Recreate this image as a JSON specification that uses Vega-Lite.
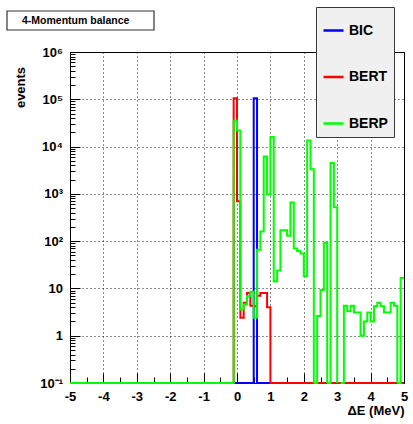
{
  "$schema": "https://vega.github.io/schema/vega-lite/v6.json",
  "width": 334,
  "height": 331,
  "autosize": "none",
  "padding": {"left": 70, "top": 52, "right": 9, "bottom": 41},
  "background": "white",
  "config": {
    "view": {"stroke": "black", "strokeWidth": 1},
    "axis": {
      "labelFont": "Liberation Sans", "labelFontWeight": "bold", "labelFontSize": 13, "labelColor": "black",
      "titleFont": "Liberation Sans", "titleFontWeight": "bold", "titleFontSize": 13, "titleColor": "black",
      "tickColor": "black", "domainColor": "black", "labelOverlap": false, "labelFlush": false
    },
    "legend": {
      "orient": "none", "legendX": 246, "legendY": -45,
      "fillColor": "#f0f0f0", "strokeColor": "#3a3a3a", "padding": 6,
      "symbolType": "stroke", "symbolSize": 400, "symbolStrokeWidth": 2.5,
      "labelFont": "Liberation Sans", "labelFontWeight": "bold", "labelFontSize": 14, "labelColor": "black",
      "labelOffset": 4, "rowPadding": 27.5,
      "titleFontSize": 1, "titlePadding": 5
    }
  },
  "datasets": {
    "bic": [
      {"s":"BIC","x":-5,"n":0},{"s":"BIC","x":-4.9,"n":0},{"s":"BIC","x":-4.8,"n":0},{"s":"BIC","x":-4.7,"n":0},{"s":"BIC","x":-4.6,"n":0},
      {"s":"BIC","x":-4.5,"n":0},{"s":"BIC","x":-4.4,"n":0},{"s":"BIC","x":-4.3,"n":0},{"s":"BIC","x":-4.2,"n":0},{"s":"BIC","x":-4.1,"n":0},
      {"s":"BIC","x":-4,"n":0},{"s":"BIC","x":-3.9,"n":0},{"s":"BIC","x":-3.8,"n":0},{"s":"BIC","x":-3.7,"n":0},{"s":"BIC","x":-3.6,"n":0},
      {"s":"BIC","x":-3.5,"n":0},{"s":"BIC","x":-3.4,"n":0},{"s":"BIC","x":-3.3,"n":0},{"s":"BIC","x":-3.2,"n":0},{"s":"BIC","x":-3.1,"n":0},
      {"s":"BIC","x":-3,"n":0},{"s":"BIC","x":-2.9,"n":0},{"s":"BIC","x":-2.8,"n":0},{"s":"BIC","x":-2.7,"n":0},{"s":"BIC","x":-2.6,"n":0},
      {"s":"BIC","x":-2.5,"n":0},{"s":"BIC","x":-2.4,"n":0},{"s":"BIC","x":-2.3,"n":0},{"s":"BIC","x":-2.2,"n":0},{"s":"BIC","x":-2.1,"n":0},
      {"s":"BIC","x":-2,"n":0},{"s":"BIC","x":-1.9,"n":0},{"s":"BIC","x":-1.8,"n":0},{"s":"BIC","x":-1.7,"n":0},{"s":"BIC","x":-1.6,"n":0},
      {"s":"BIC","x":-1.5,"n":0},{"s":"BIC","x":-1.4,"n":0},{"s":"BIC","x":-1.3,"n":0},{"s":"BIC","x":-1.2,"n":0},{"s":"BIC","x":-1.1,"n":0},
      {"s":"BIC","x":-1,"n":0},{"s":"BIC","x":-0.9,"n":0},{"s":"BIC","x":-0.8,"n":0},{"s":"BIC","x":-0.7,"n":0},{"s":"BIC","x":-0.6,"n":0},
      {"s":"BIC","x":-0.5,"n":0},{"s":"BIC","x":-0.4,"n":0},{"s":"BIC","x":-0.3,"n":0},{"s":"BIC","x":-0.2,"n":0},{"s":"BIC","x":-0.1,"n":0},
      {"s":"BIC","x":0,"n":0},{"s":"BIC","x":0.1,"n":0},{"s":"BIC","x":0.2,"n":0},{"s":"BIC","x":0.3,"n":0},{"s":"BIC","x":0.4,"n":0},
      {"s":"BIC","x":0.5,"n":105000},{"s":"BIC","x":0.6,"n":0},{"s":"BIC","x":0.7,"n":0},{"s":"BIC","x":0.8,"n":0},{"s":"BIC","x":0.9,"n":0},
      {"s":"BIC","x":1,"n":0},{"s":"BIC","x":1.1,"n":0},{"s":"BIC","x":1.2,"n":0},{"s":"BIC","x":1.3,"n":0},{"s":"BIC","x":1.4,"n":0},
      {"s":"BIC","x":1.5,"n":0},{"s":"BIC","x":1.6,"n":0},{"s":"BIC","x":1.7,"n":0},{"s":"BIC","x":1.8,"n":0},{"s":"BIC","x":1.9,"n":0},
      {"s":"BIC","x":2,"n":0},{"s":"BIC","x":2.1,"n":0},{"s":"BIC","x":2.2,"n":0},{"s":"BIC","x":2.3,"n":0},{"s":"BIC","x":2.4,"n":0},
      {"s":"BIC","x":2.5,"n":0},{"s":"BIC","x":2.6,"n":0},{"s":"BIC","x":2.7,"n":0},{"s":"BIC","x":2.8,"n":0},{"s":"BIC","x":2.9,"n":0},
      {"s":"BIC","x":3,"n":0},{"s":"BIC","x":3.1,"n":0},{"s":"BIC","x":3.2,"n":0},{"s":"BIC","x":3.3,"n":0},{"s":"BIC","x":3.4,"n":0},
      {"s":"BIC","x":3.5,"n":0},{"s":"BIC","x":3.6,"n":0},{"s":"BIC","x":3.7,"n":0},{"s":"BIC","x":3.8,"n":0},{"s":"BIC","x":3.9,"n":0},
      {"s":"BIC","x":4,"n":0},{"s":"BIC","x":4.1,"n":0},{"s":"BIC","x":4.2,"n":0},{"s":"BIC","x":4.3,"n":0},{"s":"BIC","x":4.4,"n":0},
      {"s":"BIC","x":4.5,"n":0},{"s":"BIC","x":4.6,"n":0},{"s":"BIC","x":4.7,"n":0},{"s":"BIC","x":4.8,"n":0},{"s":"BIC","x":4.9,"n":0},
      {"s":"BIC","x":5,"n":0}
    ],
    "bert": [
      {"s":"BERT","x":-5,"n":0},{"s":"BERT","x":-4.9,"n":0},{"s":"BERT","x":-4.8,"n":0},{"s":"BERT","x":-4.7,"n":0},{"s":"BERT","x":-4.6,"n":0},
      {"s":"BERT","x":-4.5,"n":0},{"s":"BERT","x":-4.4,"n":0},{"s":"BERT","x":-4.3,"n":0},{"s":"BERT","x":-4.2,"n":0},{"s":"BERT","x":-4.1,"n":0},
      {"s":"BERT","x":-4,"n":0},{"s":"BERT","x":-3.9,"n":0},{"s":"BERT","x":-3.8,"n":0},{"s":"BERT","x":-3.7,"n":0},{"s":"BERT","x":-3.6,"n":0},
      {"s":"BERT","x":-3.5,"n":0},{"s":"BERT","x":-3.4,"n":0},{"s":"BERT","x":-3.3,"n":0},{"s":"BERT","x":-3.2,"n":0},{"s":"BERT","x":-3.1,"n":0},
      {"s":"BERT","x":-3,"n":0},{"s":"BERT","x":-2.9,"n":0},{"s":"BERT","x":-2.8,"n":0},{"s":"BERT","x":-2.7,"n":0},{"s":"BERT","x":-2.6,"n":0},
      {"s":"BERT","x":-2.5,"n":0},{"s":"BERT","x":-2.4,"n":0},{"s":"BERT","x":-2.3,"n":0},{"s":"BERT","x":-2.2,"n":0},{"s":"BERT","x":-2.1,"n":0},
      {"s":"BERT","x":-2,"n":0},{"s":"BERT","x":-1.9,"n":0},{"s":"BERT","x":-1.8,"n":0},{"s":"BERT","x":-1.7,"n":0},{"s":"BERT","x":-1.6,"n":0},
      {"s":"BERT","x":-1.5,"n":0},{"s":"BERT","x":-1.4,"n":0},{"s":"BERT","x":-1.3,"n":0},{"s":"BERT","x":-1.2,"n":0},{"s":"BERT","x":-1.1,"n":0},
      {"s":"BERT","x":-1,"n":0},{"s":"BERT","x":-0.9,"n":0},{"s":"BERT","x":-0.8,"n":0},{"s":"BERT","x":-0.7,"n":0},{"s":"BERT","x":-0.6,"n":0},
      {"s":"BERT","x":-0.5,"n":0},{"s":"BERT","x":-0.4,"n":0},{"s":"BERT","x":-0.3,"n":0},{"s":"BERT","x":-0.2,"n":0},{"s":"BERT","x":-0.1,"n":105000},
      {"s":"BERT","x":0,"n":700},{"s":"BERT","x":0.1,"n":2.4},{"s":"BERT","x":0.2,"n":5},{"s":"BERT","x":0.3,"n":8},{"s":"BERT","x":0.4,"n":4.3},
      {"s":"BERT","x":0.5,"n":4.2},{"s":"BERT","x":0.6,"n":7},{"s":"BERT","x":0.7,"n":8},{"s":"BERT","x":0.8,"n":8},{"s":"BERT","x":0.9,"n":4},
      {"s":"BERT","x":1,"n":0},{"s":"BERT","x":1.1,"n":0},{"s":"BERT","x":1.2,"n":0},{"s":"BERT","x":1.3,"n":0},{"s":"BERT","x":1.4,"n":0},
      {"s":"BERT","x":1.5,"n":0},{"s":"BERT","x":1.6,"n":0},{"s":"BERT","x":1.7,"n":0},{"s":"BERT","x":1.8,"n":0},{"s":"BERT","x":1.9,"n":0},
      {"s":"BERT","x":2,"n":0},{"s":"BERT","x":2.1,"n":0},{"s":"BERT","x":2.2,"n":0},{"s":"BERT","x":2.3,"n":0},{"s":"BERT","x":2.4,"n":0},
      {"s":"BERT","x":2.5,"n":0},{"s":"BERT","x":2.6,"n":0},{"s":"BERT","x":2.7,"n":0},{"s":"BERT","x":2.8,"n":0},{"s":"BERT","x":2.9,"n":0},
      {"s":"BERT","x":3,"n":0},{"s":"BERT","x":3.1,"n":0},{"s":"BERT","x":3.2,"n":0},{"s":"BERT","x":3.3,"n":0},{"s":"BERT","x":3.4,"n":0},
      {"s":"BERT","x":3.5,"n":0},{"s":"BERT","x":3.6,"n":0},{"s":"BERT","x":3.7,"n":0},{"s":"BERT","x":3.8,"n":0},{"s":"BERT","x":3.9,"n":0},
      {"s":"BERT","x":4,"n":0},{"s":"BERT","x":4.1,"n":0},{"s":"BERT","x":4.2,"n":0},{"s":"BERT","x":4.3,"n":0},{"s":"BERT","x":4.4,"n":0},
      {"s":"BERT","x":4.5,"n":0},{"s":"BERT","x":4.6,"n":0},{"s":"BERT","x":4.7,"n":0},{"s":"BERT","x":4.8,"n":0},{"s":"BERT","x":4.9,"n":0},
      {"s":"BERT","x":5,"n":0}
    ],
    "berp": [
      {"s":"BERP","r":1,"x":-5,"n":0},{"s":"BERP","r":1,"x":-4.9,"n":0},{"s":"BERP","r":1,"x":-4.8,"n":0},{"s":"BERP","r":1,"x":-4.7,"n":0},{"s":"BERP","r":1,"x":-4.6,"n":0},
      {"s":"BERP","r":1,"x":-4.5,"n":0},{"s":"BERP","r":1,"x":-4.4,"n":0},{"s":"BERP","r":1,"x":-4.3,"n":0},{"s":"BERP","r":1,"x":-4.2,"n":0},{"s":"BERP","r":1,"x":-4.1,"n":0},
      {"s":"BERP","r":1,"x":-4,"n":0},{"s":"BERP","r":1,"x":-3.9,"n":0},{"s":"BERP","r":1,"x":-3.8,"n":0},{"s":"BERP","r":1,"x":-3.7,"n":0},{"s":"BERP","r":1,"x":-3.6,"n":0},
      {"s":"BERP","r":1,"x":-3.5,"n":0},{"s":"BERP","r":1,"x":-3.4,"n":0},{"s":"BERP","r":1,"x":-3.3,"n":0},{"s":"BERP","r":1,"x":-3.2,"n":0},{"s":"BERP","r":1,"x":-3.1,"n":0},
      {"s":"BERP","r":1,"x":-3,"n":0},{"s":"BERP","r":1,"x":-2.9,"n":0},{"s":"BERP","r":1,"x":-2.8,"n":0},{"s":"BERP","r":1,"x":-2.7,"n":0},{"s":"BERP","r":1,"x":-2.6,"n":0},
      {"s":"BERP","r":1,"x":-2.5,"n":0},{"s":"BERP","r":1,"x":-2.4,"n":0},{"s":"BERP","r":1,"x":-2.3,"n":0},{"s":"BERP","r":1,"x":-2.2,"n":0},{"s":"BERP","r":1,"x":-2.1,"n":0},
      {"s":"BERP","r":1,"x":-2,"n":0},{"s":"BERP","r":1,"x":-1.9,"n":0},{"s":"BERP","r":1,"x":-1.8,"n":0},{"s":"BERP","r":1,"x":-1.7,"n":0},{"s":"BERP","r":1,"x":-1.6,"n":0},
      {"s":"BERP","r":1,"x":-1.5,"n":0},{"s":"BERP","r":1,"x":-1.4,"n":0},{"s":"BERP","r":1,"x":-1.3,"n":0},{"s":"BERP","r":1,"x":-1.2,"n":0},{"s":"BERP","r":1,"x":-1.1,"n":0},
      {"s":"BERP","r":1,"x":-1,"n":0},{"s":"BERP","r":1,"x":-0.9,"n":0},{"s":"BERP","r":1,"x":-0.8,"n":0},{"s":"BERP","r":1,"x":-0.7,"n":0},{"s":"BERP","r":1,"x":-0.6,"n":0},
      {"s":"BERP","r":1,"x":-0.5,"n":0},{"s":"BERP","r":1,"x":-0.4,"n":0},{"s":"BERP","r":1,"x":-0.3,"n":0},{"s":"BERP","r":1,"x":-0.2,"n":0},
      {"s":"BERP","r":1,"x":-0.1,"n":35000},{"s":"BERP","r":1,"x":0,"n":22000},{"s":"BERP","r":1,"x":0.1,"n":3.6},{"s":"BERP","r":1,"x":0.2,"n":4.6},
      {"s":"BERP","r":1,"x":0.3,"n":6.9},{"s":"BERP","r":1,"x":0.4,"n":8.5},{"s":"BERP","r":1,"x":0.5,"n":2.4},{"s":"BERP","r":1,"x":0.6,"n":66},
      {"s":"BERP","r":1,"x":0.7,"n":160},{"s":"BERP","r":1,"x":0.8,"n":6200},{"s":"BERP","r":1,"x":0.9,"n":970},{"s":"BERP","r":1,"x":1,"n":16000},
      {"s":"BERP","r":1,"x":1.1,"n":14},{"s":"BERP","r":1,"x":1.2,"n":24},{"s":"BERP","r":1,"x":1.3,"n":170},{"s":"BERP","r":1,"x":1.4,"n":170},
      {"s":"BERP","r":1,"x":1.5,"n":130},{"s":"BERP","r":1,"x":1.6,"n":660},{"s":"BERP","r":1,"x":1.7,"n":70},{"s":"BERP","r":1,"x":1.8,"n":62},
      {"s":"BERP","r":1,"x":1.9,"n":55},{"s":"BERP","r":1,"x":2,"n":18},{"s":"BERP","r":1,"x":2.1,"n":13500},{"s":"BERP","r":1,"x":2.2,"n":3300},
      {"s":"BERP","r":1,"x":2.3,"n":0},
      {"s":"BERP","r":2,"x":2.3,"n":0},{"s":"BERP","r":2,"x":2.4,"n":2.6},{"s":"BERP","r":2,"x":2.5,"n":9.3},{"s":"BERP","r":2,"x":2.6,"n":92},
      {"s":"BERP","r":2,"x":2.7,"n":0},
      {"s":"BERP","r":3,"x":2.7,"n":0},{"s":"BERP","r":3,"x":2.8,"n":4500},{"s":"BERP","r":3,"x":2.9,"n":520},{"s":"BERP","r":3,"x":3,"n":0},
      {"s":"BERP","r":4,"x":3.1,"n":0},{"s":"BERP","r":4,"x":3.2,"n":4.3},{"s":"BERP","r":4,"x":3.3,"n":3.3},{"s":"BERP","r":4,"x":3.4,"n":4.3},
      {"s":"BERP","r":4,"x":3.5,"n":3.1},{"s":"BERP","r":4,"x":3.6,"n":3.1},{"s":"BERP","r":4,"x":3.7,"n":1},{"s":"BERP","r":4,"x":3.8,"n":2},
      {"s":"BERP","r":4,"x":3.9,"n":3.1},{"s":"BERP","r":4,"x":4,"n":2},{"s":"BERP","r":4,"x":4.1,"n":4.2},{"s":"BERP","r":4,"x":4.2,"n":5},
      {"s":"BERP","r":4,"x":4.3,"n":4.2},{"s":"BERP","r":4,"x":4.4,"n":3.1},{"s":"BERP","r":4,"x":4.5,"n":3.1},{"s":"BERP","r":4,"x":4.6,"n":5},
      {"s":"BERP","r":4,"x":4.7,"n":4.3},{"s":"BERP","r":4,"x":4.8,"n":0},
      {"s":"BERP","r":5,"x":4.8,"n":0},{"s":"BERP","r":5,"x":4.9,"n":16.6},{"s":"BERP","r":5,"x":5,"n":16.6}
    ]
  },
  "layer": [
    {
      "data": {"name": "bic"},
      "mark": {"type": "line", "interpolate": "step-after", "strokeWidth": 2, "invalid": "show"},
      "encoding": {
        "x": {"field": "x", "type": "quantitative",
          "scale": {"domain": [-5, 5], "nice": false, "zero": false},
          "axis": {"orient": "bottom", "values": [-5,-4,-3,-2,-1,0,1,2,3,4,5], "labelExpr": "'' + datum.value",
            "tickSize": -10, "labelPadding": 17, "grid": true, "gridDash": [1, 3], "gridColor": "black", "gridOpacity": 0.9,
            "title": "ΔE (MeV)", "titleX": 334, "titleY": 27, "titleAlign": "right", "titleBaseline": "middle"}},
        "y": {"field": "n", "type": "quantitative",
          "scale": {"type": "log", "domain": [0.1, 1000000], "nice": false, "clamp": true},
          "axis": {"orient": "left", "values": [0.1, 1, 10, 100, 1000, 10000, 100000, 1000000],
            "labelExpr": "datum.value < 0.5 ? '10⁻¹' : datum.value < 5 ? '1' : datum.value < 50 ? '10' : '10' + ['²','³','⁴','⁵','⁶'][round(log(datum.value) / LN10) - 2]",
            "tickSize": -10, "labelPadding": 17.5, "grid": true, "gridDash": [1, 3], "gridColor": "black", "gridOpacity": 0.9,
            "title": "events", "titleAngle": 270, "titleX": -50, "titleY": 35, "titleAlign": "center", "titleBaseline": "middle"}},
        "color": {"field": "s", "type": "nominal",
          "scale": {"domain": ["BIC", "BERT", "BERP"], "range": ["#0000ff", "#ff0000", "#00ff00"]},
          "legend": {"title": " ", "labelExpr": "datum.label + '              '"}}
      }
    },
    {
      "data": {"name": "bert"},
      "mark": {"type": "line", "interpolate": "step-after", "strokeWidth": 2, "invalid": "show"},
      "encoding": {
        "x": {"field": "x", "type": "quantitative",
          "axis": {"orient": "bottom", "values": [-4.5,-3.5,-2.5,-1.5,-0.5,0.5,1.5,2.5,3.5,4.5],
            "tickSize": -6, "labels": false, "grid": false, "domain": false, "title": null}},
        "y": {"field": "n", "type": "quantitative",
          "axis": {"orient": "left",
            "values": [0.2,0.3,0.4,0.5,0.6,0.7,0.8,0.9,2,3,4,5,6,7,8,9,20,30,40,50,60,70,80,90,200,300,400,500,600,700,800,900,2000,3000,4000,5000,6000,7000,8000,9000,20000,30000,40000,50000,60000,70000,80000,90000,200000,300000,400000,500000,600000,700000,800000,900000],
            "tickSize": -5, "labels": false, "grid": false, "domain": false, "title": null}},
        "color": {"field": "s", "type": "nominal"}
      }
    },
    {
      "data": {"name": "berp"},
      "mark": {"type": "line", "interpolate": "step-after", "strokeWidth": 2, "invalid": "show"},
      "encoding": {
        "x": {"field": "x", "type": "quantitative", "axis": null},
        "y": {"field": "n", "type": "quantitative", "axis": null},
        "color": {"field": "s", "type": "nominal"},
        "detail": {"field": "r", "type": "nominal"}
      }
    },
    {
      "data": {"values": [{}]},
      "mark": {"type": "rect", "fill": "white", "stroke": "#333333", "strokeWidth": 1.2},
      "encoding": {"x": {"value": -63}, "x2": {"value": 84}, "y": {"value": -41}, "y2": {"value": -22}}
    },
    {
      "data": {"values": [{}]},
      "mark": {"type": "text", "text": "4-Momentum balance", "align": "left", "baseline": "middle",
        "font": "Liberation Sans", "fontWeight": "bold", "fontSize": 10.5, "color": "black", "x": -48, "y": -31.5}
    }
  ],
  "resolve": {"axis": {"x": "independent", "y": "independent"}}
}
